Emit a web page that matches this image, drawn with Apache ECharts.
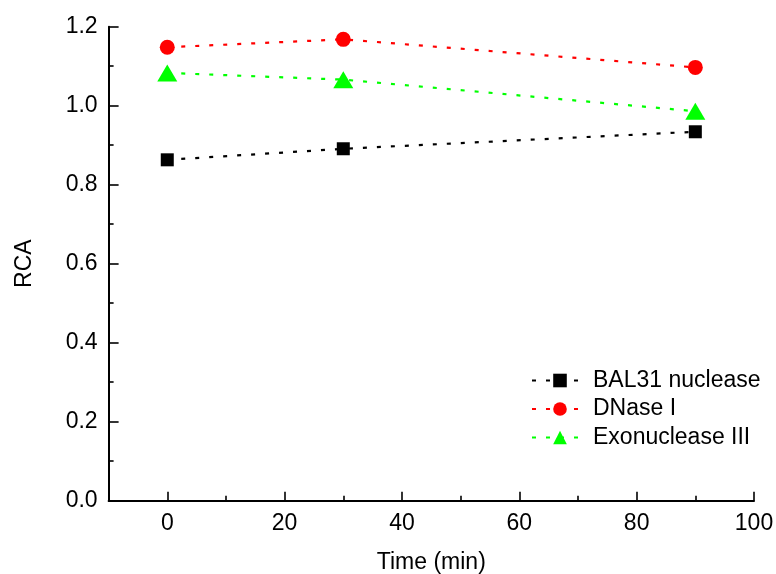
<!DOCTYPE html>
<html>
<head>
<meta charset="utf-8">
<script src="https://cdn.jsdelivr.net/npm/echarts@6/dist/echarts.min.js"></script>
<style>
  html, body { margin: 0; padding: 0; background: #fff; }
  #chart { width: 776px; height: 574px; }
</style>
</head>
<body>
<div id="chart"></div>
<script>
const times = [0, 30, 90];
const bal31 = [0.863, 0.891, 0.934];
const dnase = [1.148, 1.168, 1.097];
const exo = [1.083, 1.066, 0.986];
const xMajorTicks = [0, 20, 40, 60, 80, 100];
const xMinorTicks = [10, 30, 50, 70, 90];

const colors = {
  bal: "#000000",
  dnase: "#ff0000",
  exo: "#00ff00",
  text: "#000000",
};
const font = "Liberation Sans, Arial, sans-serif";
const fontSize = 23;

const chart = echarts.init(document.getElementById("chart"), null, { renderer: "canvas" });

const pairs = (ys) => times.map((t, i) => [t, ys[i]]);

const dotted = (color) => ({
  color: color,
  width: 2.2,
  type: [4, 10],
});

const options = {
  animation: false,
  grid: {
    left: 108.6,
    right: 22,
    top: 26.7,
    bottom: 73.3,
    outerBoundsMode: "none",
    containLabel: false,
  },
  legend: {
    orient: "vertical",
    left: 526,
    top: 364,
    itemWidth: 56,
    itemHeight: 17,
    itemGap: 5.5,
    textStyle: {
      color: colors.text,
      fontFamily: font,
      fontSize: fontSize,
      padding: [0, 0, 0, 0],
    },
    data: ["BAL31 nuclease", "DNase I", "Exonuclease III"],
  },
  xAxis: [
    {
      type: "value",
      min: -10,
      max: 100,
      name: "Time (min)",
      nameLocation: "middle",
      nameGap: 50,
      nameTextStyle: { color: colors.text, fontFamily: font, fontSize: fontSize },
      splitLine: { show: false },
      axisLine: { show: true, onZero: false, lineStyle: { color: "#000", width: 2 } },
      axisTick: {
        show: true,
        inside: true,
        length: 9,
        customValues: xMajorTicks,
        lineStyle: { color: "#000", width: 1.6 },
      },
      axisLabel: {
        customValues: xMajorTicks,
        color: colors.text,
        fontFamily: font,
        fontSize: fontSize,
        margin: 11,
      },
    },
    {
      type: "value",
      min: -10,
      max: 100,
      position: "bottom",
      splitLine: { show: false },
      axisLine: { show: false, onZero: false },
      axisTick: {
        show: true,
        inside: true,
        length: 5,
        customValues: xMinorTicks,
        lineStyle: { color: "#000", width: 1.6 },
      },
      axisLabel: { show: false },
    },
  ],
  yAxis: {
    type: "value",
    min: 0,
    max: 1.2,
    interval: 0.2,
    name: "RCA",
    nameLocation: "middle",
    nameGap: 72,
    nameTextStyle: { color: colors.text, fontFamily: font, fontSize: fontSize },
    splitLine: { show: false },
    axisLine: { show: true, onZero: false, lineStyle: { color: "#000", width: 2 } },
    axisTick: {
      show: true,
      inside: true,
      length: 10,
      lineStyle: { color: "#000", width: 1.6 },
    },
    minorTick: {
      show: true,
      splitNumber: 2,
      length: 5,
      lineStyle: { color: "#000", width: 1.6 },
    },
    axisLabel: {
      color: colors.text,
      fontFamily: font,
      fontSize: fontSize,
      margin: 11,
      formatter: (v) => v.toFixed(1),
    },
  },
  series: [
    {
      name: "BAL31 nuclease",
      type: "line",
      data: pairs(bal31),
      symbol: "rect",
      symbolSize: 13,
      itemStyle: { color: colors.bal },
      lineStyle: dotted(colors.bal),
    },
    {
      name: "DNase I",
      type: "line",
      data: pairs(dnase),
      symbol: "circle",
      symbolSize: 15,
      itemStyle: { color: colors.dnase },
      lineStyle: dotted(colors.dnase),
    },
    {
      name: "Exonuclease III",
      type: "line",
      data: pairs(exo),
      symbol: "triangle",
      symbolSize: [20, 17],
      itemStyle: { color: colors.exo },
      lineStyle: dotted(colors.exo),
    },
  ],
};

chart.setOption(options);
</script>
</body>
</html>
